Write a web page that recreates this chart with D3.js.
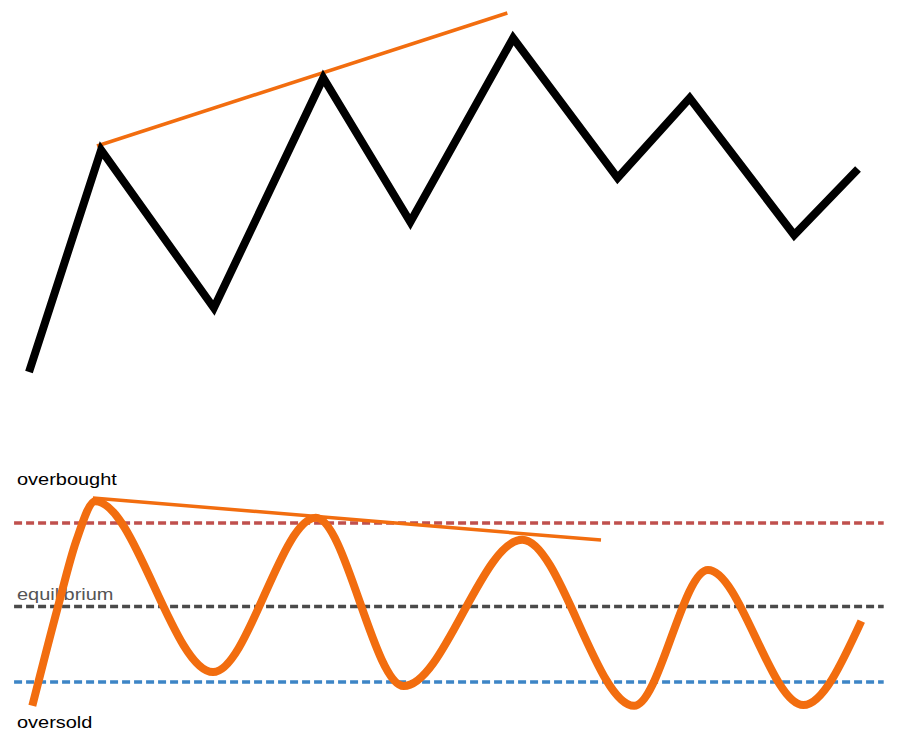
<!DOCTYPE html>
<html>
<head>
<meta charset="utf-8">
<script src="https://cdn.jsdelivr.net/npm/d3@7"></script>
<style>
  body { margin: 0; background: #fff; }
  svg { display: block; }
</style>
</head>
<body>
<div id="chart"></div>
<script>
// price swings (top panel): time 0..100, price 0..100
var priceTime = [0, 8.7, 22.3, 35.5, 46, 58.4, 71, 79.7, 92.3, 100];
var priceValue = [7, 62.5, 23, 80.5, 44.5, 90.5, 55.5, 75.5, 41.25, 57.75];
// rising trend line over the price highs
var priceTrendTime = [8.2, 57.7];
var priceTrendValue = [63.5, 96.75];

// oscillator (bottom panel)
var oscTime = [0.4, 3.5, 5.7, 8, 22.2, 34.6, 45.2, 59.5, 73, 81.9, 93.4, 100.4];
var oscValue = [24, 49, 65.5, 75.5, 32.5, 71.3, 29, 65.8, 24, 58.2, 24.2, 45.3];
// falling trend line over the oscillator highs
var oscTrendTime = [7.7, 69];
var oscTrendValue = [76.3, 65.7];

// reference levels
var levelNames = ['overbought', 'equilibrium', 'oversold'];
var levelValues = [70, 49, 30];
var levelColors = ['#c0504d', '#4a4a4a', '#3d85c6'];
var levelStart = -1.8, levelEnd = 103.1;

var width = 898, height = 738;
var orange = '#f26d0f';

var svg = d3.select('#chart')
  .append('svg')
  .attr('width', width)
  .attr('height', height);

// scales
var x = d3.scaleLinear().domain([0, 100]).range([29, 858]);
var yPrice = d3.scaleLinear().domain([0, 100]).range([400, 0]);
var yOsc = d3.scaleLinear().domain([30, 70]).range([682, 523]);

// top panel: price zigzag
var priceLine = d3.line()
  .x(function (d) { return x(d[0]); })
  .y(function (d) { return yPrice(d[1]); });

svg.append('path')
  .attr('d', priceLine(d3.zip(priceTrendTime, priceTrendValue)))
  .style('fill', 'none')
  .style('stroke', orange)
  .style('stroke-width', 3.5);

svg.append('path')
  .attr('d', priceLine(d3.zip(priceTime, priceValue)))
  .style('fill', 'none')
  .style('stroke', '#000')
  .style('stroke-width', 8)
  .style('stroke-linejoin', 'miter');

// bottom panel: levels
var levels = d3.zip(levelNames, levelValues, levelColors);

svg.selectAll('.level')
  .data(levels)
  .enter()
  .append('line')
  .attr('class', 'level')
  .attr('x1', x(levelStart))
  .attr('x2', x(levelEnd))
  .attr('y1', function (d) { return yOsc(d[1]); })
  .attr('y2', function (d) { return yOsc(d[1]); })
  .style('stroke', function (d) { return d[2]; })
  .style('stroke-width', 3.5)
  .style('stroke-dasharray', '8,4');

// level labels
var labelOffset = { overbought: -38, equilibrium: -6, oversold: 46 };
var labelColor = { overbought: '#000', equilibrium: '#555', oversold: '#000' };

svg.selectAll('.label')
  .data(levels)
  .enter()
  .append('text')
  .attr('class', 'label')
  .attr('transform', function (d) {
    return 'translate(17,' + (yOsc(d[1]) + labelOffset[d[0]]) + ') scale(1.21,1)';
  })
  .style('font-family', 'Liberation Sans, Arial, sans-serif')
  .style('font-size', '16.5px')
  .style('fill', function (d) { return labelColor[d[0]]; })
  .text(function (d) { return d[0]; });

// oscillator curve
var oscLine = d3.line()
  .x(function (d) { return x(d[0]); })
  .y(function (d) { return yOsc(d[1]); });

svg.append('path')
  .attr('d', oscLine.curve(d3.curveMonotoneX)(d3.zip(oscTime, oscValue)))
  .style('fill', 'none')
  .style('stroke', orange)
  .style('stroke-width', 8);

svg.append('path')
  .attr('d', oscLine.curve(d3.curveLinear)(d3.zip(oscTrendTime, oscTrendValue)))
  .style('fill', 'none')
  .style('stroke', orange)
  .style('stroke-width', 3.5);
</script>
</body>
</html>
